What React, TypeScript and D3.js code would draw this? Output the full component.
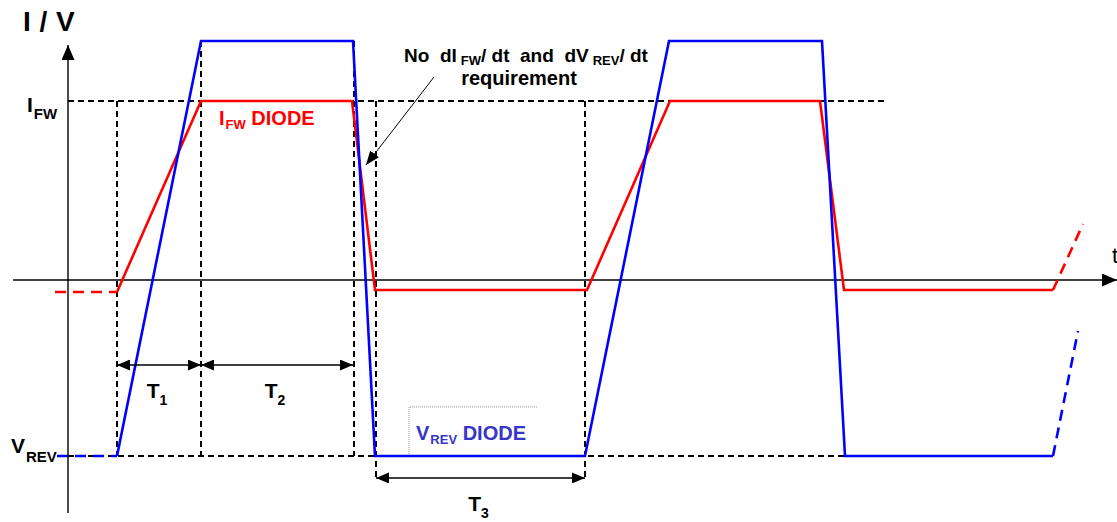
import React, { useRef, useEffect } from 'react';
import * as d3 from 'd3';

type Pt = [number, number];

// time in arbitrary units (0 = vertical axis), level: +1 = I_FW, -1 close to V_REV
const ifwLead: Pt[] = [[-13, -0.067], [49, -0.067]];
const ifwWave: Pt[] = [
    [49, -0.067], [133, 1], [284, 1], [307, -0.056], [519, -0.056],
    [602, 1], [752, 1], [776, -0.056], [985, -0.056],
];
const ifwTail: Pt[] = [[985, -0.056], [1015, 0.313]];

const vrevLead: Pt[] = [[-11, -0.983], [49, -0.983]];
const vrevWave: Pt[] = [
    [49, -0.983], [133, 1.335], [285, 1.335], [307, -0.983], [517, -0.983],
    [601, 1.335], [754, 1.335], [777, -0.983], [985, -0.983],
];
const vrevTail: Pt[] = [[985, -0.983], [1010, -0.285]];

const levelIfw = 1;
const levelVrev = -0.983;

// vertical guides: [time, from level, to level]
const guides: [number, number, number][] = [
    [49, 1, -0.983],
    [133, 1.335, -0.983],
    [286, 1.335, -0.983],
    [308, 1, -1.117],
    [517, 1, -1.117],
];
const ifwGuideEnd = 817;
const vrevGuideEnd = 777;

// intervals: [label, sub, start, end, level]
const intervals: [string, string, number, number, number][] = [
    ['T', '1', 49, 133, -0.475],
    ['T', '2', 133, 285, -0.475],
    ['T', '3', 308, 517, -1.106],
];

const noteArrow: Pt[] = [[366, 1.134], [298, 0.642]];

const FONT = '"Liberation Sans", Arial, Helvetica, sans-serif';

function App() {
    const ref = useRef<HTMLDivElement>(null);

    useEffect(() => {
        const width = 1117;
        const height = 522;

        d3.select(ref.current).selectAll('*').remove();

        const svg = d3
            .select(ref.current)
            .append('svg')
            .attr('width', width)
            .attr('height', height)
            .style('position', 'absolute')
            .style('left', '0px')
            .style('top', '0px')
            .style('background', '#fff')
            .attr('font-family', FONT)
            .attr('font-weight', 'bold');

        const x = d3.scaleLinear().domain([-68, 1049]).range([0, 1117]);
        const y = d3.scaleLinear().domain([-1, 1]).range([459, 101]);

        const defs = svg.append('defs');
        const marker = (id: string, len: number, wid: number) => {
            defs
                .append('marker')
                .attr('id', id)
                .attr('markerUnits', 'userSpaceOnUse')
                .attr('markerWidth', len)
                .attr('markerHeight', wid)
                .attr('viewBox', `0 0 ${len} ${wid}`)
                .attr('refX', len)
                .attr('refY', wid / 2)
                .attr('orient', 'auto-start-reverse')
                .append('path')
                .attr('d', `M0,0L${len},${wid / 2}L0,${wid}Z`)
                .attr('fill', '#000');
        };
        marker('axisHead', 15, 13);
        marker('spanHead', 13, 11);
        marker('noteHead', 14, 11);

        const line = d3
            .line<Pt>()
            .x((d) => x(d[0]))
            .y((d) => y(d[1]));

        // axes
        svg
            .append('line')
            .attr('x1', x(-55))
            .attr('x2', x(1049))
            .attr('y1', y(0))
            .attr('y2', y(0))
            .attr('stroke', '#000')
            .attr('stroke-width', 1.4)
            .attr('marker-end', 'url(#axisHead)');
        svg
            .append('line')
            .attr('x1', x(0))
            .attr('x2', x(0))
            .attr('y1', 513)
            .attr('y2', 45)
            .attr('stroke', '#000')
            .attr('stroke-width', 1.4)
            .attr('marker-end', 'url(#axisHead)');

        // dashed guides
        const guide = svg
            .append('g')
            .attr('stroke', '#000')
            .attr('stroke-width', 2)
            .attr('stroke-dasharray', '6,4')
            .attr('fill', 'none');
        guide
            .append('line')
            .attr('x1', x(0))
            .attr('x2', x(ifwGuideEnd))
            .attr('y1', y(levelIfw))
            .attr('y2', y(levelIfw));
        guide
            .append('line')
            .attr('x1', x(0))
            .attr('x2', x(vrevGuideEnd))
            .attr('y1', y(levelVrev))
            .attr('y2', y(levelVrev));
        guide
            .selectAll('.v')
            .data(guides)
            .enter()
            .append('line')
            .attr('x1', (d) => x(d[0]))
            .attr('x2', (d) => x(d[0]))
            .attr('y1', (d) => y(d[1]))
            .attr('y2', (d) => y(d[2]));

        // dotted label frame for V_REV DIODE
        svg
            .append('path')
            .attr('d', `M${x(341)},${y(levelVrev)}V${y(-0.709)}H${x(470)}`)
            .attr('fill', 'none')
            .attr('stroke', '#777')
            .attr('stroke-width', 0.8)
            .attr('stroke-dasharray', '1,1');

        // waveforms
        const wave = (pts: Pt[], color: string, dashed: boolean) =>
            svg
                .append('path')
                .attr('d', line(pts))
                .attr('fill', 'none')
                .attr('stroke', color)
                .attr('stroke-width', 2.6)
                .attr('stroke-linejoin', 'miter')
                .attr('stroke-dasharray', dashed ? '11,7' : null);
        wave(ifwLead, '#ff0000', true);
        wave(ifwTail, '#ff0000', true);
        wave(vrevLead, '#0000ff', true);
        wave(vrevTail, '#0000ff', true);
        wave(ifwWave, '#ff0000', false);
        wave(vrevWave, '#0000ff', false);

        // interval arrows
        const spans = svg.append('g').selectAll('g').data(intervals).enter().append('g');
        spans
            .append('line')
            .attr('x1', (d) => x(d[2]))
            .attr('x2', (d) => x(d[3]))
            .attr('y1', (d) => y(d[4]))
            .attr('y2', (d) => y(d[4]))
            .attr('stroke', '#000')
            .attr('stroke-width', 1.5)
            .attr('marker-start', 'url(#spanHead)')
            .attr('marker-end', 'url(#spanHead)');
        const spanText = spans
            .append('text')
            .attr('x', (d) => x((d[2] + d[3]) / 2) - 2)
            .attr('y', (d) => y(d[4]) + 33)
            .attr('text-anchor', 'middle')
            .attr('font-size', 21);
        spanText.append('tspan').text((d) => d[0]);
        spanText
            .append('tspan')
            .attr('dy', 7)
            .attr('font-size', 14)
            .text((d) => d[1]);

        // note arrow
        svg
            .append('path')
            .attr('d', line(noteArrow))
            .attr('stroke', '#000')
            .attr('stroke-width', 1)
            .attr('fill', 'none')
            .attr('marker-end', 'url(#noteHead)');

        // labels
        const sub = (tx: number, ty: number, big: string, small: string, size: number, smallSize: number, fill: string, dy: number) => {
            const t = svg
                .append('text')
                .attr('x', tx)
                .attr('y', ty)
                .attr('font-size', size)
                .attr('fill', fill)
                .style('white-space', 'pre');
            t.append('tspan').text(big);
            t.append('tspan').attr('dy', dy).attr('dx', 1).attr('font-size', smallSize).text(small);
            return t;
        };

        svg
            .append('text')
            .attr('x', 23)
            .attr('y', 31)
            .attr('font-size', 28)
            .attr('letter-spacing', 0.5)
            .attr('fill', '#000')
            .style('white-space', 'pre')
            .text('I / V');
        svg
            .append('text')
            .attr('x', 1112)
            .attr('y', 263)
            .attr('font-size', 22)
            .attr('font-weight', 'normal')
            .text('t');

        sub(27, 112, 'I', 'FW', 21, 15, '#000', 7);
        sub(11, 453, 'V', 'REV', 21, 15, '#000', 9);

        const ifwLabel = sub(219, 125, 'I', 'FW', 20, 13, '#ff0000', 4);
        ifwLabel.append('tspan').attr('dy', -4).attr('font-size', 20).text(' DIODE');

        const vrevLabel = sub(416, 440, 'V', 'REV', 20, 13, '#3535c8', 4);
        vrevLabel.append('tspan').attr('dy', -4).attr('font-size', 20).text(' DIODE');

        const note = svg
            .append('text')
            .attr('x', 404)
            .attr('y', 62)
            .attr('font-size', 19)
            .attr('fill', '#000')
            .style('white-space', 'pre');
        note.append('tspan').text('No  dI');
        note.append('tspan').attr('dy', 3).attr('dx', 4).attr('font-size', 13).text('FW');
        note.append('tspan').attr('dy', -3).text('/ dt  and  dV');
        note.append('tspan').attr('dy', 3).attr('dx', 4).attr('font-size', 13).text('REV');
        note.append('tspan').attr('dy', -3).text('/ dt');
        svg
            .append('text')
            .attr('x', 519)
            .attr('y', 85)
            .attr('font-size', 20)
            .attr('text-anchor', 'middle')
            .text('requirement');
    }, []);

    return <div className="chart-container" ref={ref} />;
}

export default App;
